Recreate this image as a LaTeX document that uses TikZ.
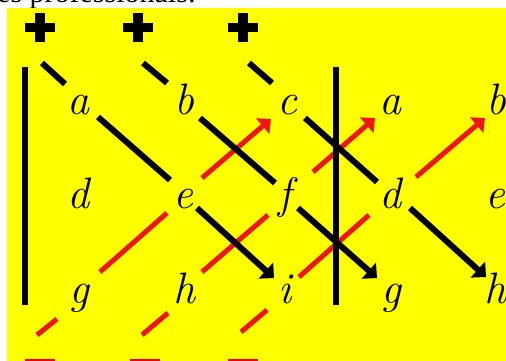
\documentclass[tikz,border=0pt]{standalone}
\usepackage{fontspec}
\newfontfamily\topfont{Liberation Serif}
\usetikzlibrary{arrows.meta}
\definecolor{yellowbg}{RGB}{255,255,0}
\definecolor{redc}{RGB}{236,22,22}
\definecolor{redm}{RGB}{236,0,0}
\tikzset{
  letter/.style={anchor=base, inner sep=0pt, font=\fontsize{44}{44}\selectfont\itshape},
  plusmark/.style={minimum width=30pt, minimum height=29pt, inner sep=0pt,
    path picture={
      \fill[black] ([xshift=-15pt,yshift=-4.5pt]path picture bounding box.center) rectangle ++(30pt,9pt);
      \fill[black] ([xshift=-5pt,yshift=-14.5pt]path picture bounding box.center) rectangle ++(10pt,29pt);}},
  minusmark/.style={fill=redm, minimum width=30pt, minimum height=9pt, inner sep=0pt},
  blk/.style={line width=6pt, black},
  blkarrow/.style={blk, -{Triangle[length=11pt,width=21pt]}},
  redln/.style={line width=5pt, redc},
  redarrow/.style={redln, -{Triangle[length=11pt,width=20pt]}},
  vline/.style={line width=6pt, black}
}
\begin{document}
\begin{tikzpicture}[x=1pt,y=-1pt]
\useasboundingbox (0,0) rectangle (506,361);
\clip (0,0) rectangle (506,361);
\node[anchor=base west, inner sep=0pt, font=\topfont\fontsize{30}{30}\selectfont] (title) at (-3,3) {es professionals:};
\fill[yellowbg] (7,8) rectangle (506,361);

% plus and minus signs
\node[plusmark] (p1) at (40,28) {};
\node[plusmark] (p2) at (138,28) {};
\node[plusmark] (p3) at (243,28) {};
\node[minusmark] (m1) at (40,363) {};
\node[minusmark] (m2) at (145,363) {};
\node[minusmark] (m3) at (243,363) {};

% letters
\node[letter] (a)  at (78,114)  {a};
\node[letter] (b)  at (184,114) {b};
\node[letter] (c)  at (287,114) {c};
\node[letter] (a2) at (390,114) {a};
\node[letter] (b2) at (496,114) {b};
\node[letter] (d)  at (78,208)  {d};
\node[letter] (e)  at (183,208) {e};
\node[letter] (f)  at (285,208) {f};
\node[letter] (d2) at (390,208) {d};
\node[letter] (e2) at (495,208) {e};
\node[letter] (g)  at (79,303)  {g};
\node[letter] (h)  at (184,303) {h};
\node[letter] (i)  at (285,303) {i};
\node[letter] (g2) at (391,303) {g};
\node[letter] (h2) at (495,303) {h};

% segment end points
\coordinate (B1a) at (42,63);   \coordinate (B1b) at (65,84);
\coordinate (B1c) at (98,117);  \coordinate (B1d) at (170,180);
\coordinate (B1e) at (197,208); \coordinate (B1f) at (274,278);
\coordinate (B2a) at (143,63);  \coordinate (B2b) at (167,83);
\coordinate (B2c) at (200,118); \coordinate (B2d) at (275,183);
\coordinate (B2e) at (298,208); \coordinate (B2f) at (377,278);
\coordinate (B3a) at (249,63);  \coordinate (B3b) at (272,83);
\coordinate (B3c) at (305,118); \coordinate (B3d) at (377,182);
\coordinate (B3e) at (410,208); \coordinate (B3f) at (486,277);

\coordinate (R1a) at (37,335);  \coordinate (R1b) at (57,319);
\coordinate (R1c) at (100,272); \coordinate (R1d) at (167,213);
\coordinate (R1e) at (202,178); \coordinate (R1f) at (271,119);
\coordinate (R2a) at (142,335); \coordinate (R2b) at (168,313);
\coordinate (R2c) at (202,272); \coordinate (R2d) at (268,215);
\coordinate (R2e) at (313,172); \coordinate (R2f) at (375,118);
\coordinate (R3a) at (241,332); \coordinate (R3b) at (267,310);
\coordinate (R3c) at (299,277); \coordinate (R3d) at (369,215);
\coordinate (R3e) at (416,177); \coordinate (R3f) at (485,118);

% red diagonals
\draw[redln] (R1a) -- (R1b);
\draw[redln] (R1c) -- (R1d);
\draw[redarrow] (R1e) -- (R1f);
\draw[redln] (R2a) -- (R2b);
\draw[redln] (R2c) -- (R2d);
\draw[redarrow] (R2e) -- (R2f);
\draw[redln] (R3a) -- (R3b);
\draw[redln] (R3c) -- (R3d);
\draw[redarrow] (R3e) -- (R3f);

% vertical bars
\coordinate (V1t) at (25,67);  \coordinate (V1b) at (25,305);
\coordinate (V2t) at (336,67); \coordinate (V2b) at (336,305);
\draw[vline] (V1t) -- (V1b);
\draw[vline] (V2t) -- (V2b);

% black diagonals
\draw[blk] (B1a) -- (B1b);
\draw[blk] (B1c) -- (B1d);
\draw[blkarrow] (B1e) -- (B1f);
\draw[blk] (B2a) -- (B2b);
\draw[blk] (B2c) -- (B2d);
\draw[blkarrow] (B2e) -- (B2f);
\draw[blk] (B3a) -- (B3b);
\draw[blk] (B3c) -- (B3d);
\draw[blkarrow] (B3e) -- (B3f);
\end{tikzpicture}
\end{document}
